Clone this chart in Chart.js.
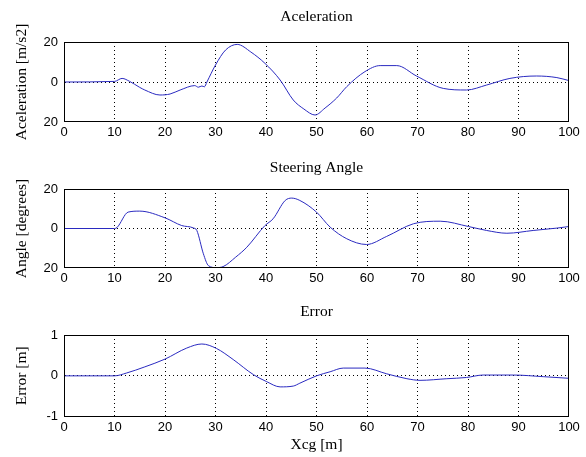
<!DOCTYPE html>
<html>
<head>
<meta charset="utf-8">
<script src="https://cdn.jsdelivr.net/npm/chart.js@4.4.1/dist/chart.umd.min.js"></script>
<style>
  body { margin: 0; background: #fff; }
  #wrap { position: relative; width: 586px; height: 457px; }
  .panel { position: absolute; left: 0; width: 586px; }
</style>
</head>
<body>
<div id="wrap">
  <div class="panel" style="top:0px;height:150px"><canvas id="c1" width="586" height="150"></canvas></div>
  <div class="panel" style="top:150px;height:150px"><canvas id="c2" width="586" height="150"></canvas></div>
  <div class="panel" style="top:300px;height:157px"><canvas id="c3" width="586" height="157"></canvas></div>
</div>
<script>
// x ticks shared by all three panels
const xTicks = [0, 10, 20, 30, 40, 50, 60, 70, 80, 90, 100];

// Acceleration [m/s2]
const accX = [0, 10, 11.5, 13, 15, 16, 19, 21, 23, 25.9, 26.6, 27.3, 27.8, 28.3, 30, 32, 34.3, 37, 39.8, 42.8, 45.4, 47.5, 49.7, 51.7, 54, 56, 59.6, 62.6, 65.9, 69.8, 75.1, 79.7, 83.7, 88.3, 93.6, 97.6, 100];
const accY = [0, 0.3, 1.8, 0.3, -2.7, -4, -6.5, -6, -4, -1.8, -2.6, -2, -2.4, 0, 8.5, 16, 18.8, 15, 9.3, 1, -9, -13.5, -16.5, -13, -8, -2.3, 5.2, 8.2, 8.2, 3, -3.2, -4, -1.5, 1.8, 3, 2.2, 0.7];
const accTicks = [-20, 0, 20];
const accTickLabels = ['20', '0', '20'];

// Steering angle [degrees]
const steerX = [0, 10, 10.5, 12.7, 15, 20, 23.3, 25.6, 26.3, 27.6, 28.6, 30.1, 31.5, 34, 36.2, 39.8, 41.4, 43.8, 45.1, 46.7, 50, 52.7, 56, 59.9, 63.9, 69.2, 74.5, 80.1, 83.7, 87.7, 92.9, 97.6, 100];
const steerY = [0, 0, 0.5, 8.3, 8.8, 5.4, 1.5, 0.3, -1, -12.8, -18.8, -19.8, -19.3, -14.5, -9.5, 1.5, 4.9, 14.2, 15.4, 14.2, 8.3, 0.7, -5.2, -8.1, -4, 2.4, 3.7, 1, -1, -2.4, -1, 0.2, 1];
const steerTicks = [-20, 0, 20];
const steerTickLabels = ['20', '0', '20'];

// Error [m]
const errX = [0, 10, 12.4, 16, 20, 24.3, 27.3, 30.2, 33.5, 37.5, 40.1, 42.8, 45.4, 46.7, 50, 52.7, 55.3, 59.6, 63.9, 67.9, 70.5, 75.8, 79.7, 83, 89, 94.9, 100];
const errY = [0, 0, 0.07, 0.22, 0.41, 0.68, 0.78, 0.67, 0.4, 0.03, -0.14, -0.27, -0.25, -0.18, 0, 0.1, 0.19, 0.19, 0.05, -0.07, -0.11, -0.07, -0.04, 0.02, 0.02, -0.02, -0.06];
const errTicks = [-1, 0, 1];
const errTickLabels = ['-1', '0', '1'];

const serif = 'Liberation Serif, Times New Roman, serif';
const sans = 'Liberation Sans, Arial, sans-serif';

// box around the plot area, like matlab axes
const framePlugin = {
    id: 'frame',
    afterDraw(chart) {
        const a = chart.chartArea;
        const ctx = chart.ctx;
        ctx.save();
        ctx.strokeStyle = '#000';
        ctx.lineWidth = 1;
        ctx.setLineDash([]);
        ctx.strokeRect(Math.round(a.left) + 0.5, Math.round(a.top) + 0.5,
            Math.round(a.right - a.left) - 1, Math.round(a.bottom - a.top) - 1);
        ctx.restore();
    }
};

function makePanel(id, xs, ys, opts) {
    const points = xs.map((x, i) => ({ x: x, y: ys[i] }));
    return new Chart(document.getElementById(id), {
        type: 'line',
        data: {
            datasets: [{
                data: points,
                borderColor: '#2a2ac0',
                borderWidth: 1,
                pointRadius: 0,
                fill: false,
                cubicInterpolationMode: 'monotone'
            }]
        },
        options: {
            responsive: false,
            animation: false,
            layout: { padding: { left: 0, right: 17, top: 0, bottom: 0 } },
            plugins: {
                legend: { display: false },
                tooltip: { enabled: false },
                title: {
                    display: true,
                    text: opts.title,
                    fullSize: false,
                    color: '#000',
                    font: { family: serif, size: 15.5, weight: 'normal' },
                    padding: { top: opts.titleTop, bottom: opts.titleBottom }
                }
            },
            scales: {
                x: {
                    type: 'linear',
                    min: 0,
                    max: 100,
                    afterBuildTicks: s => { s.ticks = xTicks.map(v => ({ value: v })); },
                    afterFit: s => { s.height = opts.xHeight; },
                    ticks: {
                        autoSkip: false,
                        maxRotation: 0,
                        padding: 3,
                        color: '#000',
                        font: { family: sans, size: 13 }
                    },
                    grid: {
                        drawTicks: false,
                        borderDash: [1, 3],
                        color: c => (c.tick && c.tick.value > 0 && c.tick.value < 100) ? '#000' : 'rgba(0,0,0,0)',
                        lineWidth: 1
                    },
                    border: { display: true, color: 'rgba(0,0,0,0)', dash: [1, 3] },
                    title: {
                        display: !!opts.xTitle,
                        text: opts.xTitle || '',
                        color: '#000',
                        font: { family: serif, size: 15.5 },
                        padding: { top: 0, bottom: 3 }
                    }
                },
                y: {
                    type: 'linear',
                    min: opts.yTicks[0],
                    max: opts.yTicks[opts.yTicks.length - 1],
                    afterBuildTicks: s => { s.ticks = opts.yTicks.map(v => ({ value: v })); },
                    afterFit: s => { s.width = 64; },
                    ticks: {
                        padding: 6,
                        color: '#000',
                        font: { family: sans, size: 13 },
                        callback: (v, i) => opts.yTickLabels[i]
                    },
                    grid: {
                        drawTicks: false,
                        borderDash: [1, 3],
                        color: c => (c.tick && c.tick.value === 0) ? '#000' : 'rgba(0,0,0,0)',
                        lineWidth: 1
                    },
                    border: { display: true, color: 'rgba(0,0,0,0)', dash: [1, 3] },
                    title: {
                        display: true,
                        text: opts.yTitle,
                        color: '#000',
                        font: { family: serif, size: 15.5 },
                        padding: { top: 13, bottom: 0 }
                    }
                }
            }
        },
        plugins: [framePlugin]
    });
}

makePanel('c1', accX, accY, {
    title: 'Aceleration', yTitle: 'Aceleration [m/s2]',
    yTicks: accTicks, yTickLabels: accTickLabels,
    titleTop: 7.7, titleBottom: 15.7, xHeight: 28
});
makePanel('c2', steerX, steerY, {
    title: 'Steering Angle', yTitle: 'Angle [degrees]',
    yTicks: steerTicks, yTickLabels: steerTickLabels,
    titleTop: 8.7, titleBottom: 11.7, xHeight: 32
});
makePanel('c3', errX, errY, {
    title: 'Error', yTitle: 'Error [m]', xTitle: 'Xcg [m]',
    yTicks: errTicks, yTickLabels: errTickLabels,
    titleTop: 2.7, titleBottom: 13.7, xHeight: 40.3
});
</script>
</body>
</html>
